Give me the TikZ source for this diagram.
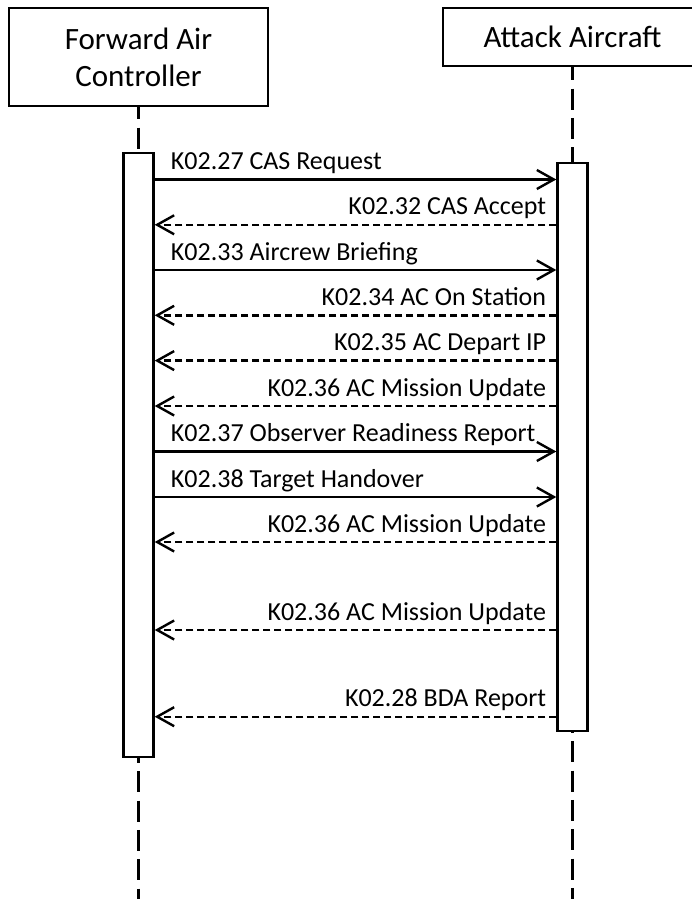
\documentclass[tikz,border=0pt]{standalone}
\usepackage{fontspec}
\setmainfont{Carlito}
\usetikzlibrary{positioning,arrows.meta}
\newcommand\headfont{\fontsize{31}{37}\selectfont}
\newcommand\msgfont{\fontsize{26}{31}\selectfont}
\tikzset{
  actor/.style={rectangle, draw, line width=2.4pt, minimum width=259pt,
                align=center, font=\headfont},
  bar/.style={rectangle, draw, fill=white, line width=2.4pt, minimum width=30pt},
  lifeline/.style={line width=2.4pt, dash pattern=on 21pt off 8.3pt},
  call/.style={-{Straight Barb[length=17pt,width=19pt]}, line width=2.4pt},
  reply/.style={call, dash pattern=on 7pt off 4pt},
  sendlbl/.style={pos=0, anchor=base west, xshift=15pt, yshift=10pt,
                  font=\msgfont, inner sep=0pt},
  backlbl/.style={pos=0, anchor=base east, xshift=-9pt, yshift=10pt,
                  font=\msgfont, inner sep=0pt}
}
\begin{document}
\begin{tikzpicture}[x=1pt,y=-1pt]
  \useasboundingbox (0,0) rectangle (692,899);

  % participants
  \node[actor, minimum height=98pt] (fac) at (138.5,57) {Forward Air\\Controller};
  \node[actor, minimum height=58pt] (aac) at (572.5,37) {Attack Aircraft};

  % lifelines
  \draw[lifeline, dash phase=9pt] (fac.south) -- (138.5,153);
  \draw[lifeline, dash phase=8pt] (aac.south) -- (572.5,163);
  \draw[lifeline, dash phase=15pt] (138.5,757) -- (138.5,899);
  \draw[lifeline, dash phase=19pt] (572.5,731) -- (572.5,899);

  % activations
  \node[bar, minimum height=604pt] (facbar) at (138.5,455) {};
  \node[bar, minimum height=568pt] (aacbar) at (572.5,447) {};

  % messages
  \draw[call] (facbar.east |- 0,179.5) -- (aacbar.west |- 0,179.5)
    node[sendlbl] {K02.27 CAS Request};
  \draw[reply] (aacbar.west |- 0,224.8) -- (facbar.east |- 0,224.8)
    node[backlbl] {K02.32 CAS Accept};
  \draw[call] (facbar.east |- 0,270) -- (aacbar.west |- 0,270)
    node[sendlbl] {K02.33 Aircrew Briefing};
  \draw[reply] (aacbar.west |- 0,315.3) -- (facbar.east |- 0,315.3)
    node[backlbl] {K02.34 AC On Station};
  \draw[reply] (aacbar.west |- 0,360.6) -- (facbar.east |- 0,360.6)
    node[backlbl] {K02.35 AC Depart IP};
  \draw[reply] (aacbar.west |- 0,406) -- (facbar.east |- 0,406)
    node[backlbl] {K02.36 AC Mission Update};
  \draw[call] (facbar.east |- 0,451.5) -- (aacbar.west |- 0,451.5)
    node[sendlbl] {K02.37 Observer Readiness Report};
  \draw[call] (facbar.east |- 0,497) -- (aacbar.west |- 0,497)
    node[sendlbl] {K02.38 Target Handover};
  \draw[reply] (aacbar.west |- 0,542) -- (facbar.east |- 0,542)
    node[backlbl] {K02.36 AC Mission Update};
  \draw[reply] (aacbar.west |- 0,630) -- (facbar.east |- 0,630)
    node[backlbl] {K02.36 AC Mission Update};
  \draw[reply] (aacbar.west |- 0,716.7) -- (facbar.east |- 0,716.7)
    node[backlbl] {K02.28 BDA Report};
\end{tikzpicture}
\end{document}
